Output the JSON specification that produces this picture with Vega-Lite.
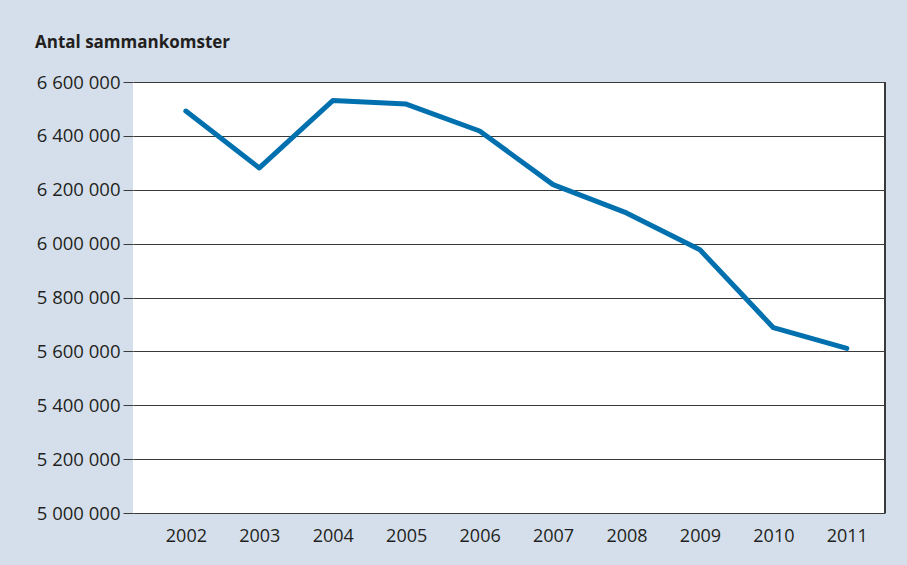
{
  "$schema": "https://vega.github.io/schema/vega-lite/v6.json",
  "autosize": "none",
  "width": 752,
  "height": 431,
  "padding": {"left": 133, "top": 82, "right": 22, "bottom": 52},
  "background": "#d5dfec",
  "title": {
    "text": "Antal sammankomster",
    "anchor": "start",
    "frame": "group",
    "dx": -98,
    "offset": 8,
    "baseline": "alphabetic",
    "font": "Open Sans",
    "fontSize": 17,
    "fontWeight": "bold",
    "color": "#231f20"
  },
  "data": {
    "values": [
      {"year": 2002, "value": 6492000},
      {"year": 2003, "value": 6281000},
      {"year": 2004, "value": 6531000},
      {"year": 2005, "value": 6518000},
      {"year": 2006, "value": 6418000},
      {"year": 2007, "value": 6219000},
      {"year": 2008, "value": 6114000},
      {"year": 2009, "value": 5977000},
      {"year": 2010, "value": 5688000},
      {"year": 2011, "value": 5611000}
    ]
  },
  "layer": [
    {
      "mark": {"type": "line", "color": "#0070ae", "strokeWidth": 5, "strokeCap": "round", "strokeJoin": "round"},
      "encoding": {
        "x": {
          "field": "year",
          "type": "quantitative",
          "scale": {"domain": [2001.28, 2011.52], "nice": false, "zero": false},
          "axis": {
            "title": null,
            "values": [2002, 2003, 2004, 2005, 2006, 2007, 2008, 2009, 2010, 2011],
            "format": "d",
            "grid": false,
            "domain": false,
            "ticks": false,
            "labelPadding": 14,
            "labelFont": "Open Sans",
            "labelFontSize": 18,
            "labelColor": "#231f20"
          }
        },
        "y": {
          "field": "value",
          "type": "quantitative",
          "scale": {"domain": [5000000, 6600000], "nice": false, "zero": false},
          "axis": {
            "title": null,
            "values": [5000000, 5200000, 5400000, 5600000, 5800000, 6000000, 6200000, 6400000, 6600000],
            "labelExpr": "replace(format(datum.value, ','), /,/g, ' ')",
            "grid": true,
            "gridColor": "#3a3a3a",
            "gridWidth": 1,
            "gridOpacity": 1,
            "domain": false,
            "ticks": true,
            "tickSize": 10,
            "tickColor": "#3a3a3a",
            "tickWidth": 1,
            "labelPadding": 3,
            "labelFont": "Open Sans",
            "labelFontSize": 18.5,
            "labelColor": "#231f20"
          }
        }
      }
    },
    {
      "mark": {"type": "rule", "color": "#3a3a3a", "strokeWidth": 1},
      "encoding": {
        "x": {"datum": 2011.52},
        "y": {"datum": 5000000},
        "y2": {"datum": 6600000}
      }
    }
  ],
  "config": {
    "view": {"fill": "white", "stroke": null}
  }
}
